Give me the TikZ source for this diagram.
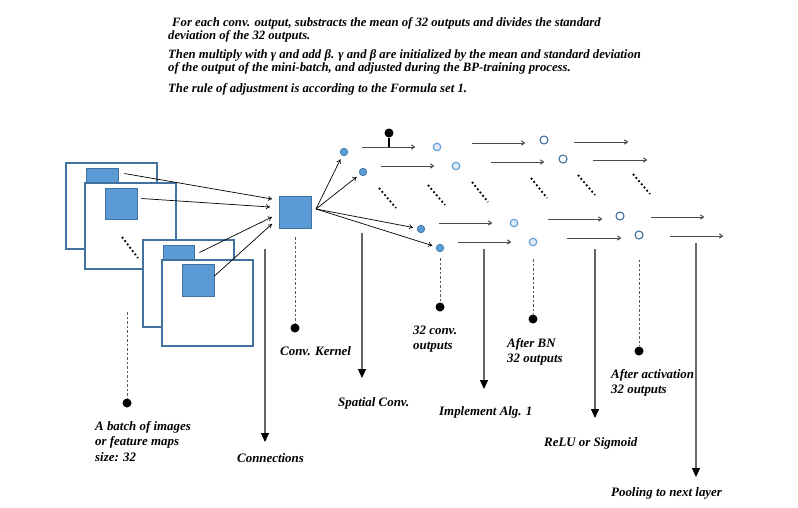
\documentclass[tikz,border=0pt]{standalone}
\usepackage{fontspec}
\setmainfont{Liberation Serif}
\usepackage{tikz}
\usetikzlibrary{arrows.meta}
\definecolor{patchblue}{HTML}{5B9BD5}
\definecolor{edgeblue}{HTML}{41719C}
\definecolor{paleblue}{HTML}{DEEBF7}

\begin{document}
\begin{tikzpicture}[x=1pt, y=-1pt,
    every node/.style={font=\bfseries\itshape\fontsize{12.9}{15.5}\selectfont},
    frame/.style={rectangle, draw=edgeblue, line width=1.3pt, fill=white, minimum width=91, minimum height=86, inner sep=0},
    patch/.style={rectangle, draw=edgeblue, fill=patchblue, line width=0.8pt, inner sep=0},
    conv/.style={circle, draw=edgeblue, fill=patchblue, minimum size=7.5, inner sep=0, line width=0.7pt},
    bn/.style={circle, draw=patchblue, fill=paleblue, minimum size=7.5, inner sep=0, line width=1.1pt},
    act/.style={circle, draw=edgeblue, fill=white, minimum size=8, inner sep=0, line width=1.1pt},
    blob/.style={circle, fill=black, minimum size=9, inner sep=0},
    lab/.style={anchor=north west, align=left, inner sep=0},
    link/.style={-{To[length=4pt,width=5pt]}, line width=0.7pt},
    flow/.style={-{To[length=4pt,width=5pt]}, line width=1pt, black!70},
    drop/.style={draw=black!65, line width=0.8pt, dash pattern=on 2.5pt off 2pt},
    down/.style={draw=black!60, line width=1.2pt, -{Triangle[length=9pt,width=8pt,color=black,fill=black]}},
    etc/.style={line width=1.8pt, dash pattern=on 1.8pt off 2.4pt}]
    \useasboundingbox (0,0) rectangle (798,507);

    \node[lab, font=\bfseries\itshape\fontsize{12.7}{13}\selectfont] (note) at (168,17)
        {\hspace*{4pt}For each conv. output, substracts the mean of 32 outputs and divides the standard\\
         deviation of the 32 outputs.\\[6pt]
         Then multiply with γ and add β. γ and β are initialized by the mean and standard deviation\\
         of the output of the mini-batch, and adjusted during the BP-training process.\\[8pt]
         The rule of adjustment is according to the Formula set 1.};

    % batch of images
    \node[frame] (f1) at (111.5,206) {};
    \node[patch, minimum width=32, minimum height=15] (p1) at (102,175.5) {};
    \node[frame] (f2) at (130.5,226) {};
    \node[patch, minimum width=32, minimum height=31] (p2) at (121,203.5) {};
    \draw[etc] (122,237) -- (138,258);
    \node[frame, minimum height=87] (f3) at (188.5,283.5) {};
    \node[patch, minimum width=31, minimum height=15] (p3) at (178.5,252.5) {};
    \node[frame] (f4) at (207.5,303) {};
    \node[patch, minimum width=32, minimum height=32] (p4) at (198,280) {};
    \node[patch, minimum width=32, minimum height=32] (k) at (295,212) {};

    \coordinate (k1) at (272,199);
    \coordinate (k2) at (270,207);
    \coordinate (k3) at (272,217);
    \coordinate (k4) at (272,224);
    \coordinate (ko) at (316,209);
    \draw[link] ([xshift=6,yshift=2]p1.east) -- (k1);
    \draw[link] ([xshift=4,yshift=5]p2.east) -- (k2);
    \draw[link] ([xshift=5]p3.east) -- (k3);
    \draw[link] ([yshift=4]p4.east) -- (k4);

    \node[conv] at (344,152) (c1) {};
    \node[conv] at (363,172) (c2) {};
    \node[conv] at (421,229) (c3) {};
    \node[conv] at (440,248) (c4) {};
    \node[bn] at (437,147) (b1) {};
    \node[bn] at (456,166) (b2) {};
    \node[bn] at (514,223) (b3) {};
    \node[bn] at (533,242) (b4) {};
    \node[act] at (544,140) (a1) {};
    \node[act] at (563,159) (a2) {};
    \node[act] at (620,216) (a3) {};
    \node[act] at (639,235) (a4) {};

    \draw[link, shorten >=4pt] (ko) -- (c1);
    \draw[link, shorten >=4pt] (ko) -- (c2);
    \draw[link, shorten >=4pt] (ko) -- (c3);
    \draw[link, shorten >=4pt] (ko) -- (c4);

    \draw[flow] ([xshift=-75]b1.center) -- ([xshift=-22]b1.center);
    \draw[flow] ([xshift=-75]b2.center) -- ([xshift=-22]b2.center);
    \draw[flow] ([xshift=-75]b3.center) -- ([xshift=-22]b3.center);
    \draw[flow] ([xshift=-75]b4.center) -- ([xshift=-22]b4.center);
    \draw[flow] ([xshift=-72,yshift=-3]a1.center) -- ([xshift=-19,yshift=-3]a1.center);
    \draw[flow] ([xshift=-72,yshift=-3]a2.center) -- ([xshift=-19,yshift=-3]a2.center);
    \draw[flow] ([xshift=-72,yshift=-3]a3.center) -- ([xshift=-18,yshift=-3]a3.center);
    \draw[flow] ([xshift=-72,yshift=-3]a4.center) -- ([xshift=-18,yshift=-3]a4.center);
    \draw[flow] ([xshift=30,yshift=-2]a1.center) -- ([xshift=84,yshift=-2]a1.center);
    \draw[flow] ([xshift=30,yshift=-1]a2.center) -- ([xshift=84,yshift=-1]a2.center);
    \draw[flow] ([xshift=31,yshift=-1]a3.center) -- ([xshift=84,yshift=-1]a3.center);
    \draw[flow] ([xshift=31,yshift=-1]a4.center) -- ([xshift=84,yshift=-1]a4.center);

    \node[blob] (pd) at (389,133) {};
    \draw[line width=1.2pt] (pd) -- (pd |- b1);

    \draw[etc] (379,188) -- (396,208);
    \draw[etc] (428,185) -- (445,205);
    \draw[etc] (472,182) -- (488,202);
    \draw[etc] (531,178) -- (547,198);
    \draw[etc] (578,175) -- (595,195);
    \draw[etc] (633,174) -- (650,194);

    % dashed drops
    \coordinate (bt) at (127,312);
    \node[blob] (bd) at (127,403) {};
    \node[blob] (kd) at (295,328) {};
    \node[blob] (cd) at (440,307) {};
    \node[blob] (bnd) at (533,319) {};
    \node[blob] (ad) at (639,351) {};
    \draw[drop] (bt) -- (bd);
    \draw[drop, shorten <=9pt] (k) -- (kd);
    \draw[drop, shorten <=6pt] (c4) -- (cd);
    \draw[drop, shorten <=13pt] (b4) -- (bnd);
    \draw[drop, shorten <=20pt] (a4) -- (ad);

    \node[lab] (bl) at (95,421) {A batch of images\\or feature maps\\size: 32};
    \node[lab] (cn) at (237,453) {Connections};
    \node[lab] (kl) at (280,346) {Conv. Kernel};
    \node[lab] (sp) at (338,397) {Spatial Conv.};
    \node[lab, font=\bfseries\itshape\fontsize{12.9}{15}\selectfont] (cl) at (413,326) {32 conv.\\outputs};
    \node[lab, font=\bfseries\itshape\fontsize{12.9}{15}\selectfont] (bnl) at (507,338) {After BN\\32 outputs};
    \node[lab] (im) at (439,406) {Implement Alg. 1};
    \node[lab, font=\bfseries\itshape\fontsize{12.9}{15}\selectfont] (al) at (611,369) {After activation\\32 outputs};
    \node[lab] (re) at (544,437) {ReLU or Sigmoid};
    \node[lab] (po) at (611,487) {Pooling to next layer};

    % long arrows to the stage names
    \coordinate (tcn) at (265,249);
    \coordinate (tsp) at (362,233);
    \coordinate (tim) at (484,249);
    \coordinate (tre) at (595,249);
    \coordinate (tpo) at (696,243);
    \draw[down, shorten >=11pt] (tcn) -- (tcn |- cn.north);
    \draw[down, shorten >=19pt] (tsp) -- (tsp |- sp.north);
    \draw[down, shorten >=17pt] (tim) -- (tim |- im.north);
    \draw[down, shorten >=19pt] (tre) -- (tre |- re.north);
    \draw[down, shorten >=10pt] (tpo) -- (tpo |- po.north);
\end{tikzpicture}
\end{document}
